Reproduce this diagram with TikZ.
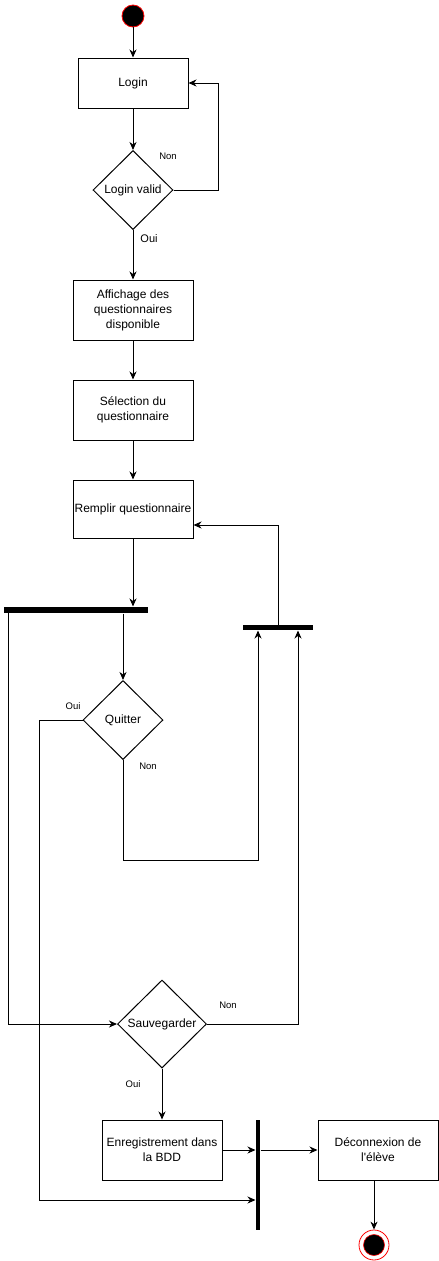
\documentclass[tikz,border=0pt]{standalone}
\usepackage{fontspec}
\setmainfont{Liberation Sans}
\usetikzlibrary{arrows.meta,shapes.geometric,calc}

\begin{document}
\begin{tikzpicture}[x=1pt,y=-1pt,
  line width=1pt,
  arr/.style={-{Stealth[length=8pt,width=7pt,inset=2.5pt]}},
  act/.style={draw, rectangle, inner sep=1pt, align=center,
    minimum width=120pt, minimum height=60pt,
    font=\fontsize{12}{15}\selectfont},
  choice/.style={draw, diamond, inner sep=0pt, align=center,
    font=\fontsize{12}{15}\selectfont},
  bar/.style={fill=black, draw=none, rectangle, inner sep=0pt},
  lbl/.style={font=\fontsize{9.5}{11}\selectfont, inner sep=0pt},
  startdot/.style={circle, fill=black, draw=red, line width=0.8pt,
    minimum size=22pt, inner sep=0pt},
]
\useasboundingbox (0,0) rectangle (439,1261);

% start and the login loop
\node[startdot] (start) at (133,16) {};
\node[act, minimum width=110pt, minimum height=50pt] (login) at (133,83) {Login};
\node[choice, minimum width=80pt, minimum height=79pt] (valid) at (133,190) {Login valid};

\node[act] (aff) at (133,310) {Affichage des\\questionnaires\\disponible};
\node[act] (sel) at (133,410) {Sélection du\\questionnaire};
\node[act, minimum height=58pt] (remp) at (133,509) {Remplir questionnaire};

% fork and synchronisation bars
\node[bar, minimum width=144pt, minimum height=6pt] (fork) at (76,610) {};
\node[bar, minimum width=70pt, minimum height=5pt] (rbar) at (278,627.5) {};
\node[bar, minimum width=4pt, minimum height=110pt] (join) at (258,1175) {};

\node[choice, minimum width=80pt, minimum height=79pt] (quit) at (123,720) {Quitter};
\node[choice, minimum width=89pt, minimum height=88pt] (sauv) at (162,1024) {Sauvegarder};

\node[act] (enreg) at (162,1150) {Enregistrement dans\\la BDD};
\node[act] (deco) at (378,1150) {Déconnexion de\\l\textquotesingle élève};

% final state
\node[circle, draw=red, fill=white, line width=0.8pt, minimum size=30pt, inner sep=0pt] (final) at (374,1245) {};
\node[circle, fill=black, draw=red, line width=0.6pt, minimum size=21pt, inner sep=0pt] (finaldot) at (final.center) {};

% route helpers
\coordinate (loopx) at (218,190);
\coordinate (quitout) at (39,720);
\coordinate (quitlow) at (123,860);
\coordinate (rin1) at ($(rbar.south)+(-20,0)$);
\coordinate (rin2) at ($(rbar.south)+(20,0)$);
\coordinate (forkleft) at (8,613);

% connectors
\draw[arr] (start) -- (login.north);
\draw[arr] (login.south) -- (valid.north);
\draw[arr] (valid.east) -- (loopx) |- (login.east);
\draw[arr] (valid.south) -- (aff.north);
\draw[arr] (aff.south) -- (sel.north);
\draw[arr] (sel.south) -- (remp.north);
\draw[arr] (remp.south) -- (remp.south |- fork.north);
\draw[arr] (quit.north |- fork.south) -- (quit.north);
\draw[arr] (rbar.north) |- ($(remp.east)+(0,16)$);
\draw[arr] (quit.south) -- (quitlow) -| (rin1);
\draw[arr] (quit.west) -- (quitout) |- (join.west |- 0,1200);
\draw[arr] (forkleft) |- (sauv.west);
\draw[arr] (sauv.east) -| (rin2);
\draw[arr] (sauv.south) -- (enreg.north);
\draw[arr] (enreg.east) -- (join.west |- enreg.east);
\draw[arr] (join.east |- deco.west) -- (deco.west);
\draw[arr] (deco.south -| final.north) -- (final.north);

% guard labels
\node[lbl] at (168,156) {Non};
\node[lbl, font=\fontsize{11}{13}\selectfont] at (149,239) {Oui};
\node[lbl] at (73,706) {Oui};
\node[lbl] at (148,766) {Non};
\node[lbl] at (228,1005) {Non};
\node[lbl] at (133,1084) {Oui};
\end{tikzpicture}
\end{document}
